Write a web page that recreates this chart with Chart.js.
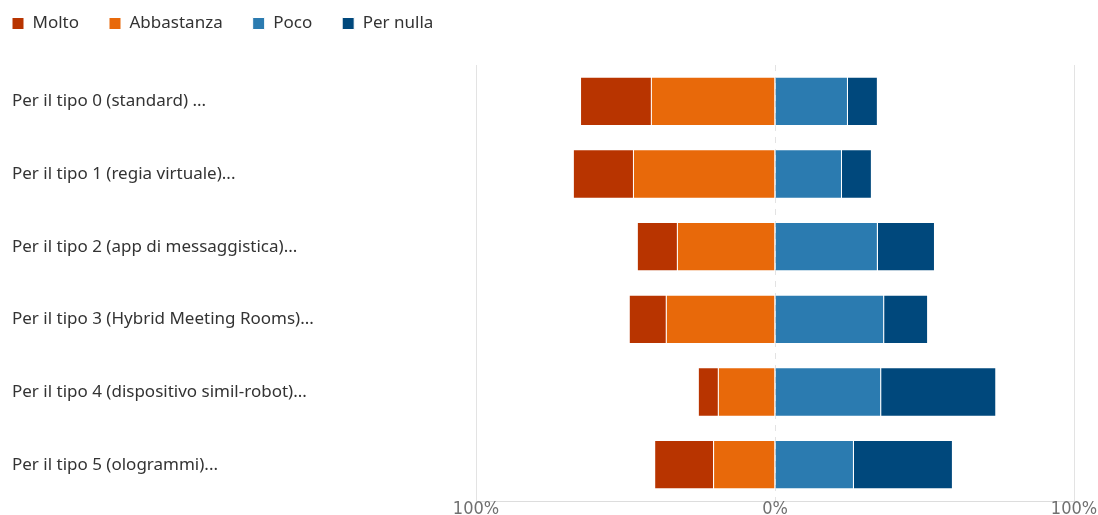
<!DOCTYPE html>
<html>
<head>
<meta charset="utf-8">
<script src="https://cdn.jsdelivr.net/npm/chart.js@4"></script>
<style>
    html, body { margin: 0; padding: 0; background: #fff; }
    #wrap { position: relative; width: 1098px; height: 515px; }
</style>
</head>
<body>
<div id="wrap"><canvas id="likert-chart"></canvas></div>
<script>
const categories = [
    'Per il tipo 0 (standard) ...',
    'Per il tipo 1 (regia virtuale)...',
    'Per il tipo 2 (app di messaggistica)...',
    'Per il tipo 3 (Hybrid Meeting Rooms)...',
    'Per il tipo 4 (dispositivo simil-robot)...',
    'Per il tipo 5 (ologrammi)...'
];
// percentages
const molto = [23.7, 20.1, 13.4, 12.4, 6.7, 19.7];
const abbastanza = [41.5, 47.5, 32.8, 36.5, 19.1, 20.7];
const poco = [24.4, 22.4, 34.4, 36.5, 35.5, 26.4];
const perNulla = [10.0, 10.0, 19.1, 14.7, 38.5, 33.1];
const tickValues = [-100, 0, 100];

const legendOrder = ['Molto', 'Abbastanza', 'Poco', 'Per nulla'];

// shift the legend so the first box sits at the left margin
const legendShift = {
    id: 'legendShift',
    afterLayout(chart) {
        const lg = chart.legend;
        lg.left -= 30; lg.right -= 30;
        lg.top -= 23; lg.bottom -= 23;
    }
};

const ctx = document.getElementById('likert-chart').getContext('2d');
new Chart(ctx, {
    type: 'bar',
    data: {
        labels: categories,
        datasets: [
            // negatives: Abbastanza first so it stacks next to 0
            { label: 'Abbastanza', data: abbastanza.map(v => -v), backgroundColor: '#e8690a' },
            { label: 'Molto', data: molto.map(v => -v), backgroundColor: '#b83400' },
            { label: 'Poco', data: poco, backgroundColor: '#2b7bb0' },
            { label: 'Per nulla', data: perNulla, backgroundColor: '#00487c' }
        ].map(ds => Object.assign(ds, {
            borderColor: '#ffffff',
            borderWidth: 1,
            barPercentage: 0.68,
            categoryPercentage: 1
        }))
    },
    options: {
        indexAxis: 'y',
        responsive: true,
        maintainAspectRatio: false,
        animation: false,
        layout: { padding: { left: 12, right: 0, top: 8, bottom: 0 } },
        plugins: {
            tooltip: { enabled: false },
            legend: {
                position: 'top',
                align: 'start',
                labels: {
                    boxWidth: 12,
                    boxHeight: 12,
                    padding: 30,
                    color: '#333',
                    font: { family: "'Noto Sans', sans-serif", size: 17 },
                    sort: (a, b) => legendOrder.indexOf(a.text) - legendOrder.indexOf(b.text)
                }
            }
        },
        scales: {
            x: {
                stacked: true,
                min: -100,
                max: 100,
                afterBuildTicks: scale => {
                    scale.ticks = tickValues.map(v => ({ value: v }));
                },
                afterFit: scale => {
                    scale.height = 14;
                    scale.paddingRight = 24;
                },
                ticks: {
                    padding: -2,
                    color: '#707070',
                    font: { family: "'DejaVu Sans Condensed', 'Liberation Sans Narrow', sans-serif", size: 18 },
                    callback: v => Math.abs(v) + '%'
                },
                grid: {
                    drawTicks: false,
                    color: '#e3e3e3',
                    lineWidth: 1
                },
                border: {
                    display: true,
                    color: '#dddddd',
                    dash: c => (c.tick && c.tick.value === 0 ? [6, 6] : [])
                }
            },
            y: {
                stacked: true,
                afterFit: scale => { scale.width = 464; },
                grid: { display: false },
                border: { display: false },
                ticks: {
                    crossAlign: 'far',
                    color: '#333',
                    font: { family: "'Noto Sans', sans-serif", size: 17 }
                }
            }
        }
    },
    plugins: [legendShift]
});
</script>
</body>
</html>
